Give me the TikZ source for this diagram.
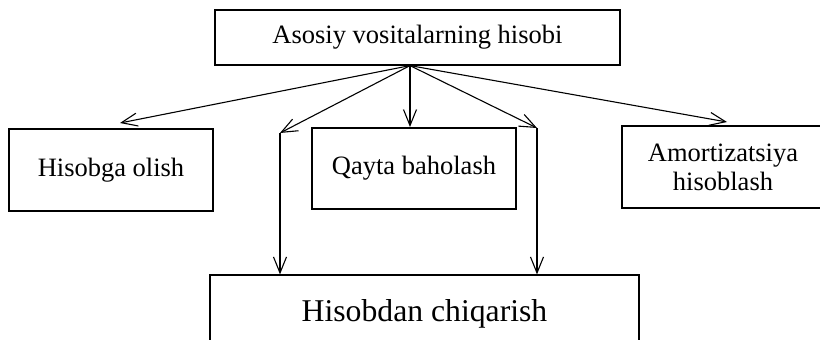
\documentclass[tikz,border=0pt]{standalone}
\usepackage{fontspec}
\setmainfont{Liberation Serif}
\usetikzlibrary{arrows.meta}
\begin{document}
\begin{tikzpicture}[x=1pt,y=-1pt,
  box/.style={draw, line width=1.2pt, inner sep=0pt, align=center,
    font=\fontsize{26.5}{29}\selectfont},
  bigbox/.style={box, font=\fontsize{31.7}{35}\selectfont},
  link/.style={line width=1.1pt,
    -{Straight Barb[length=16pt,width=13pt,line width=1.1pt]}}]
\useasboundingbox (0,0) rectangle (820,340);
\clip (0,0) rectangle (820,340);

% boxes
\node[box, minimum width=405pt, minimum height=55pt] (top) at (417.5,37.5)
  {Asosiy vositalarning hisobi};
\node[box, minimum width=204pt, minimum height=82pt] (olish) at (111,170)
  {Hisobga olish};
\node[box, minimum width=204pt, minimum height=81pt] (qayta) at (414,168.5)
  {Qayta baholash};
\node[box, minimum width=202pt, minimum height=82pt] (amort) at (723,167)
  {Amortizatsiya\\hisoblash};
\node[bigbox, minimum width=429pt, minimum height=77pt] (chiq) at (424.5,313.5)
  {Hisobdan chiqarish};

% fan-out point and arrow tips
\coordinate (hub) at ([xshift=-7.5pt]top.south);
\coordinate (t1) at (120,123);
\coordinate (t2) at (280,133);
\coordinate (t3) at (410,127);
\coordinate (t4) at (537,128);
\coordinate (t5) at (727,122);

% connectors
\draw[link] (hub) -- (t1);
\draw[link] (hub) -- (t2);
\draw[link] (hub) -- (t3);
\draw[link] (hub) -- (t4);
\draw[link] (hub) -- (t5);
\draw[link] (t2) -- (t2 |- chiq.north);
\draw[link] (t4) -- (t4 |- chiq.north);
\end{tikzpicture}
\end{document}
